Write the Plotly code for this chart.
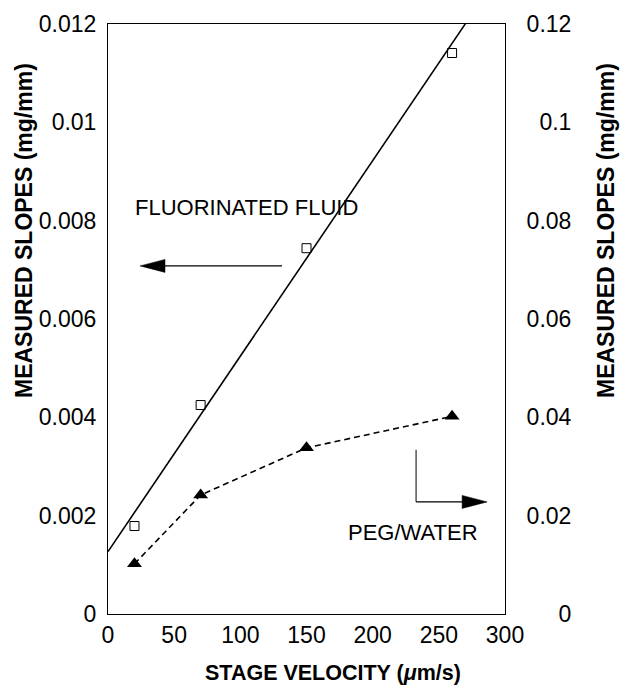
import plotly.graph_objects as go

# Data
fluor_x = [20, 70, 150, 260]
fluor_y = [0.00179, 0.00425, 0.00744, 0.01141]
fit_intercept = 0.00127
fit_slope = 3.975e-5
fit_x = [0, 270]
fit_y = [fit_intercept + fit_slope * v for v in fit_x]

peg_x = [20, 70, 150, 260]
peg_y = [0.0102, 0.0242, 0.0338, 0.0402]

x_ticks = [0, 50, 100, 150, 200, 250, 300]
yl_ticks = [0, 0.002, 0.004, 0.006, 0.008, 0.01, 0.012]
yr_ticks = [0, 0.02, 0.04, 0.06, 0.08, 0.1, 0.12]
FS, PS = "\u2007", "\u2008"
yr_labels = [FS + PS + FS + "0", "0.02", "0.04", "0.06", "0.08", FS + "0.1", "0.12"]

x_title = "<b>STAGE VELOCITY (<i>μ</i>m/s)</b>"
y_title = "<b>MEASURED SLOPES (mg/mm)</b>"

FONT = "Liberation Sans, Arial, Helvetica, sans-serif"

fig = go.Figure()
fig.add_trace(go.Scatter(x=fit_x, y=fit_y, mode="lines",
                         line=dict(color="black", width=1.6), showlegend=False))
fig.add_trace(go.Scatter(x=fluor_x, y=fluor_y, mode="markers",
                         marker=dict(symbol="square-open", size=9, color="black",
                                     line=dict(width=1)), showlegend=False))
fig.add_trace(go.Scatter(x=peg_x, y=peg_y, mode="lines+markers", yaxis="y2",
                         line=dict(color="black", width=1.6, dash="6px,4px"),
                         marker=dict(symbol="triangle-up", size=13, color="black"),
                         showlegend=False))

# Arrow to the left (fluorinated fluid -> left axis)
fig.add_shape(type="line", xref="x", yref="y", x0=131.5, x1=40,
              y0=0.00708, y1=0.00708, line=dict(color="black", width=1.2))
fig.add_shape(type="path", xref="x", yref="y", xsizemode="pixel", ysizemode="pixel",
              xanchor=24.2, yanchor=0.00708, path="M 0,0 L 25,6.5 L 25,-6.5 Z",
              fillcolor="black", line=dict(color="black", width=0.5))

# Bent arrow (PEG/water -> right axis)
fig.add_shape(type="line", xref="x", yref="y", x0=232.8, x1=232.8,
              y0=0.00334, y1=0.00228, line=dict(color="black", width=1))
fig.add_shape(type="line", xref="x", yref="y", x0=232.8, x1=270,
              y0=0.00228, y1=0.00228, line=dict(color="black", width=1.2))
fig.add_shape(type="path", xref="x", yref="y", xsizemode="pixel", ysizemode="pixel",
              xanchor=286.5, yanchor=0.00228, path="M 0,0 L -25,6.5 L -25,-6.5 Z",
              fillcolor="black", line=dict(color="black", width=0.5))

fig.add_annotation(x=104.7, y=0.00826, xref="x", yref="y", text="FLUORINATED FLUID",
                   showarrow=False, font=dict(family=FONT, size=22, color="black"))
fig.add_annotation(x=230.2, y=0.00165, xref="x", yref="y", text="PEG/WATER",
                   showarrow=False, font=dict(family=FONT, size=22, color="black"))

# Axis titles (placed as in the original, off-centre)
fig.add_annotation(x=-0.2116, y=0.6508, xref="paper", yref="paper", text=y_title,
                   textangle=-90, showarrow=False, xanchor="center", yanchor="middle",
                   font=dict(family=FONT, size=23, color="black"))
fig.add_annotation(x=1.2544, y=0.6508, xref="paper", yref="paper", text=y_title,
                   textangle=-90, showarrow=False, xanchor="center", yanchor="middle",
                   font=dict(family=FONT, size=23, color="black"))
fig.add_annotation(x=0.5668, y=-0.1000, xref="paper", yref="paper", text=x_title,
                   showarrow=False, xanchor="center", yanchor="middle",
                   font=dict(family=FONT, size=21.5, color="black"))

axis_common = dict(showgrid=False, zeroline=False, showline=True, linecolor="black",
                   linewidth=1, ticks="", tickfont=dict(family=FONT, size=23, color="black"))

fig.update_layout(
    width=620, height=687,
    margin=dict(l=108, r=115, t=24, b=73),
    paper_bgcolor="white", plot_bgcolor="white",
    font=dict(family=FONT, color="black"),
    xaxis=dict(range=[0, 300], tickvals=x_ticks, mirror=True,
               ticklabelstandoff=0, **axis_common),
    yaxis=dict(range=[0, 0.012], tickvals=yl_ticks,
               ticklabelstandoff=6, **axis_common),
    yaxis2=dict(range=[0, 0.12], tickvals=yr_ticks, ticktext=yr_labels,
                overlaying="y", side="right",
                ticklabelstandoff=16, **axis_common),
)

html = fig.to_html(include_plotlyjs=True, full_html=True,
                   config={"displayModeBar": False, "staticPlot": True})
html = html.replace("<body>", '<body style="margin:0;padding:0;overflow:hidden">', 1)
with open("out.html", "w", encoding="utf-8") as f:
    f.write(html)
